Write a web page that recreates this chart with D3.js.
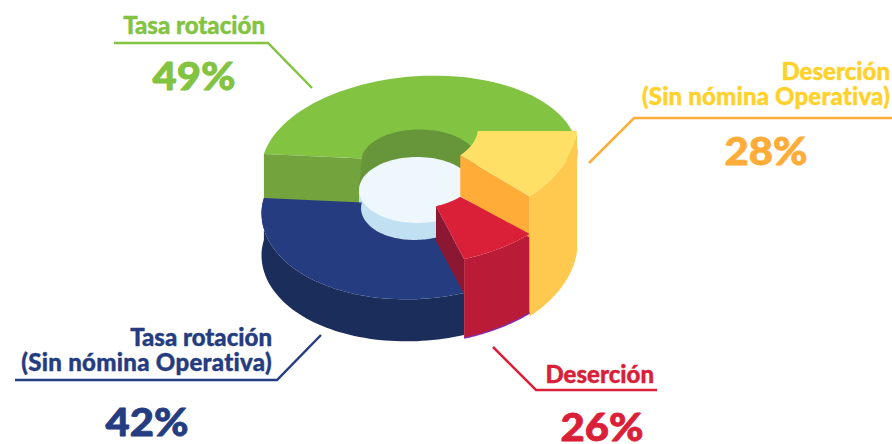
<!DOCTYPE html>
<html><head><meta charset="utf-8">
<script src="https://cdn.jsdelivr.net/npm/d3@7/dist/d3.min.js"></script>
<style>html,body{margin:0;padding:0;background:#fff}svg{display:block}text{font-family:Lato,sans-serif;font-weight:900;stroke-linejoin:round}</style>
</head><body><svg id="c" width="892" height="444"></svg>
<script>
// Data
const categories = ["Deserción (Sin nómina Operativa)", "Deserción", "Tasa rotación (Sin nómina Operativa)", "Tasa rotación"];
const values = [28, 26, 42, 49];
// Sweep of each wedge as it is drawn in the picture (degrees)
const drawnSweep = [41.2, 27.8, 116.4, 174.6];
// Per-wedge drawing levels
const topCentre = [131, 175, 205, 161];
const frontDepth = [99, 90, 94, 94];
const sideHeight = [120, 79, 42, 42];
const wallHeight = [41, 35, 0, 46];
const topColor = ["#ffe066", "#da2038", "#253c80", "#82c341"];
const sideColor = ["#ffc84f", "#ba1c38", "#1b2e5b", "#72a33d"];
const wallColor = ["#ffac38", "#8c1733", "#253c80", "#72a33d"];

const svg = d3.select("#c");
const cx = 419.5, A = 158, backDepth = 85, shear = 8, innerR = 0.37;
const pie = d3.pie().sort(null).value((d, i) => drawnSweep[i]).startAngle(94.6 * Math.PI / 180).endAngle((94.6 + 360) * Math.PI / 180);
const arcs = pie(values);

function pt(phi, r, i, dy = 0) {
  const c = Math.cos(phi), s = Math.sin(phi);
  const b = c > 0 ? backDepth : frontDepth[i];
  return [cx + A * r * s, topCentre[i] + dy - r * b * c - r * shear * s];
}
const line = d3.line();
const samples = (a, b, n = 60) => d3.range(n + 1).map(k => a + (b - a) * k / n);
const arcPts = (a, i, r, dy = 0) => samples(a.startAngle, a.endAngle).map(p => pt(p, r, i, dy));
const topPath = (a, i) => line([...arcPts(a, i, 1), ...arcPts(a, i, innerR).reverse()]) + "Z";
const sidePath = (a, i) => line([...arcPts(a, i, 1), ...arcPts(a, i, 1, sideHeight[i]).reverse()]) + "Z";
const wallPath = (phi, i) => line([pt(phi, innerR, i), pt(phi, 1, i), pt(phi, 1, i, wallHeight[i]), pt(phi, innerR, i, wallHeight[i])]) + "Z";

const [Y, R, B, G] = [0, 1, 2, 3];

// green top + its front wall
svg.append("path").attr("d", line([...arcPts(arcs[G], G, 1), [cx, topCentre[G]]]) + "Z").attr("fill", topColor[G]);
svg.append("path").attr("d", wallPath(arcs[G].startAngle, G)).attr("fill", wallColor[G]);

// the hole: inner wall, light band, floor
const hc = 161, fc = 190, fx = 417, frx = 58, fry = 33;
const ring = (c, x, rx, up, dn) => samples(0, 2 * Math.PI, 120).map(p => [x + rx * Math.sin(p), c - (Math.cos(p) > 0 ? up : dn) * Math.cos(p)]);
svg.append("path").attr("d", line(ring(hc, cx, frx, 31.5, 33)) + "Z").attr("fill", "#66953a");
svg.append("path").attr("d", line([[cx - frx, hc], [fx - frx, fc], [fx, fc], [cx, hc]]) + "Z").attr("fill", "#66953a");
svg.append("path").attr("d", line(ring(fc + 17, fx, frx, fry, fry)) + "Z").attr("fill", "#c1e0f1");
svg.append("path").attr("d", line([[fx - frx, fc], [fx - frx, fc + 17], [fx + frx, fc + 17], [fx + frx, fc]]) + "Z").attr("fill", "#c1e0f1");
svg.append("path").attr("d", line(ring(fc, fx, frx, fry, fry)) + "Z").attr("fill", "#eef8fc");

// blue
svg.append("path").attr("d", sidePath(arcs[B], B)).attr("fill", sideColor[B]);
svg.append("path").attr("d", topPath(arcs[B], B)).attr("fill", topColor[B]);

// red
svg.append("path").attr("d", wallPath(arcs[R].endAngle, R)).attr("fill", wallColor[R]);
svg.append("path").attr("d", sidePath(arcs[R], R)).attr("fill", sideColor[R]);

// yellow
svg.append("path").attr("d", wallPath(arcs[Y].endAngle, Y)).attr("fill", wallColor[Y]);
svg.append("path").attr("d", sidePath(arcs[Y], Y)).attr("fill", sideColor[Y]);
svg.append("path").attr("d", topPath(arcs[Y], Y)).attr("fill", topColor[Y]);
svg.append("path").attr("d", topPath(arcs[R], R)).attr("fill", topColor[R]);
svg.append("path").attr("d", line(arcPts(arcs[R], R, 1, sideHeight[R]))).attr("fill", "none").attr("stroke", "#8a2aa8").attr("stroke-width", 1.5);

// leaders
const leaders = [
  { c: "#ffac38", p: [[589, 163], [634, 118], [892, 118]] },
  { c: "#da2038", p: [[493, 347], [536, 390], [657, 390]] },
  { c: "#253c80", p: [[321, 335], [277, 380], [15, 380]] },
  { c: "#82c341", p: [[114, 43], [268, 43], [312, 88]] }
];
svg.selectAll(".lead").data(leaders).join("path").attr("class", "lead")
  .attr("d", d => line(d.p)).attr("fill", "none").attr("stroke", d => d.c).attr("stroke-width", 2.5);

// text
const names = [
  { lines: ["Deserción", "(Sin nómina Operativa)"], x: 890, y: 80, c: "#ffd12b", sp: 0.18 },
  { lines: ["Deserción"], x: 654, y: 383, c: "#da2038", sp: 0 },
  { lines: ["Tasa rotación", "(Sin nómina Operativa)"], x: 272, y: 346, c: "#253c80", sp: 0.3 },
  { lines: ["Tasa rotación"], x: 265, y: 34, c: "#82c341", sp: 0 }
];
const pctPos = [
  { x: 766, y: 165, c: "#ffac38" },
  { x: 602, y: 441, c: "#da2038" },
  { x: 147, y: 436, c: "#253c80" },
  { x: 194, y: 90, c: "#82c341" }
];
const nameText = svg.selectAll(".name").data(names).join("text").attr("class", "name")
  .attr("text-anchor", "end").attr("font-size", 24)
  .attr("fill", d => d.c).attr("stroke", d => d.c).attr("stroke-width", 0.4);
nameText.selectAll("tspan").data(d => d.lines.map((t, k) => ({ t, k, d }))).join("tspan")
  .attr("x", e => e.d.x).attr("y", e => e.d.y + e.k * 25)
  .attr("letter-spacing", e => e.k ? e.d.sp : 0).text(e => e.t);
svg.selectAll(".pct").data(values).join("text").attr("class", "pct")
  .attr("x", (d, i) => pctPos[i].x).attr("y", (d, i) => pctPos[i].y)
  .attr("text-anchor", "middle").attr("font-size", 38)
  .attr("textLength", 83).attr("lengthAdjust", "spacingAndGlyphs")
  .attr("fill", (d, i) => pctPos[i].c).attr("stroke", (d, i) => pctPos[i].c).attr("stroke-width", 0.8)
  .text(d => d + "%");
</script></body></html>
